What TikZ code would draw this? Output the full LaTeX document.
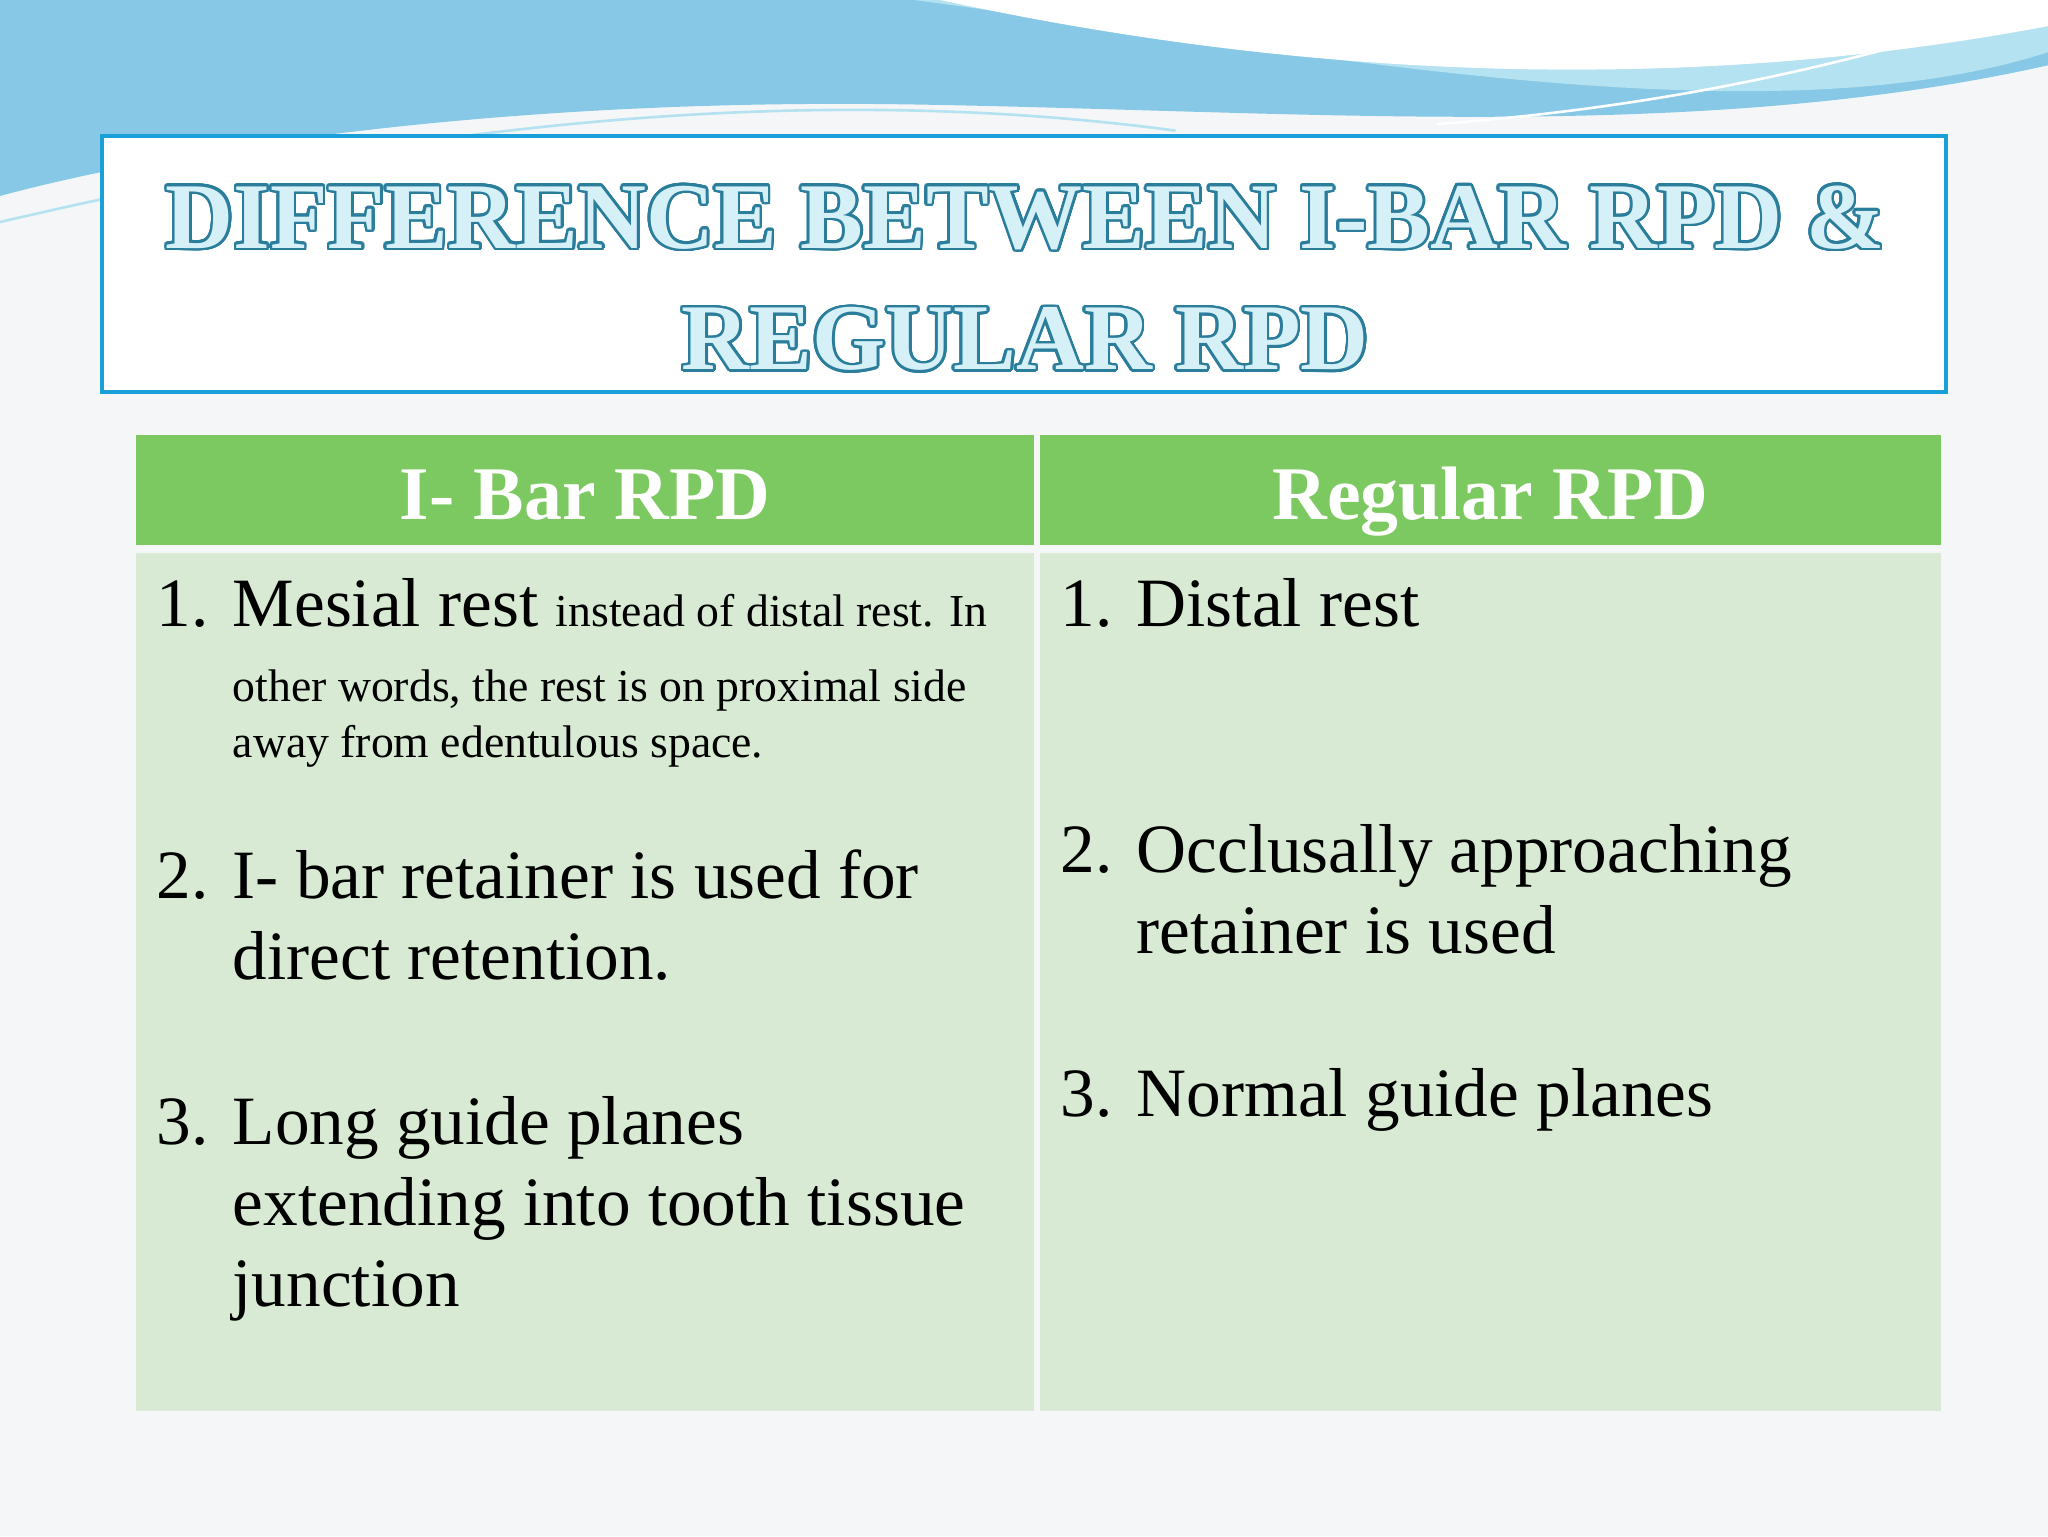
\documentclass[tikz,border=0pt]{standalone}
\usepackage{fontspec}
\setmainfont{Liberation Serif}
\usepackage{contour}
\contourlength{2pt}
\contournumber{24}
\definecolor{bg}{HTML}{F4F6F8}
\definecolor{wave}{HTML}{86C8E6}
\definecolor{wave2}{HTML}{B4E2F0}
\definecolor{tborder}{HTML}{1AA0D8}
\definecolor{ttext}{HTML}{D6F0F8}
\definecolor{tdark}{HTML}{2A7E9C}
\definecolor{hgreen}{HTML}{7DC961}
\definecolor{cgreen}{HTML}{D8EAD3}
\tikzset{
 ttl/.style={font=\fontsize{72}{72}\bfseries\selectfont, text=ttext, anchor=base},
 hdr/.style={font=\fontsize{58}{58}\bfseries\selectfont, text=white, anchor=base},
 body/.style={font=\fontsize{53}{62}\selectfont, anchor=base west, inner sep=0},
 small/.style={font=\fontsize{35}{43}\selectfont, anchor=base west, inner sep=0}
}
\begin{document}
\begin{tikzpicture}[x=1pt,y=-1pt]
\useasboundingbox (0,0) rectangle (1568,1176);
\fill[bg] (0,0) rectangle (1568,1176);
% waves
\fill[wave] (0,0) -- (1568,0) -- (1568,50) .. controls (1300,110) and (1000,85) .. (700,80) .. controls (400,75) and (150,110) .. (0,150) -- cycle;
\fill[wave2] (700,0) -- (1568,0) -- (1568,40) .. controls (1350,110) and (1000,40) .. (700,0) -- cycle;
\fill[white] (720,0) .. controls (950,50) and (1250,80) .. (1568,20) -- (1568,0) -- cycle;
\draw[wave2, line width=2] (0,170) .. controls (300,100) and (600,60) .. (900,100);
\draw[white, line width=2] (1100,95) .. controls (1300,80) and (1450,40) .. (1568,0);
% title
\node[draw=tborder, line width=3, fill=white, minimum width=1412, minimum height=196, inner sep=0] (titlebox) at (784,202) {};
\node[ttl] (t1) at (785,190) {\contour{tdark}{DIFFERENCE BETWEEN I-BAR RPD \&}};
\node[ttl] (t2) at (785,283) {\contour{tdark}{REGULAR RPD}};
% table
\fill[hgreen] (104,333) rectangle (792,417);
\fill[hgreen] (796,333) rectangle (1486,417);
\fill[cgreen] (104,423) rectangle (792,1080);
\fill[cgreen] (796,423) rectangle (1486,1080);
\node[hdr] (h1) at (448,398) {I- Bar RPD};
\node[hdr] (h2) at (1141,398) {Regular RPD};
% left column
\node[body] (l1n) at (120,480) {1.};
\node[body] (l1) at (178,480) {Mesial rest \fontsize{35}{43}\selectfont instead of distal rest. In};
\node[small] (l1b) at (178,537) {other words, the rest is on proximal side};
\node[small] (l1c) at (178,580) {away from edentulous space.};
\node[body] (l2n) at (120,688) {2.};
\node[body] (l2) at (178,688) {I- bar retainer is used for};
\node[body] (l2b) at (178,750) {direct retention.};
\node[body] (l3n) at (120,876) {3.};
\node[body] (l3) at (178,876) {Long guide planes};
\node[body] (l3b) at (178,938) {extending into tooth tissue};
\node[body] (l3c) at (178,1000) {junction};
% right column
\node[body] (r1n) at (812,480) {1.};
\node[body] (r1) at (870,480) {Distal rest};
\node[body] (r2n) at (812,668) {2.};
\node[body] (r2) at (870,668) {Occlusally approaching};
\node[body] (r2b) at (870,730) {retainer is used};
\node[body] (r3n) at (812,855) {3.};
\node[body] (r3) at (870,855) {Normal guide planes};
\end{tikzpicture}
\end{document}
